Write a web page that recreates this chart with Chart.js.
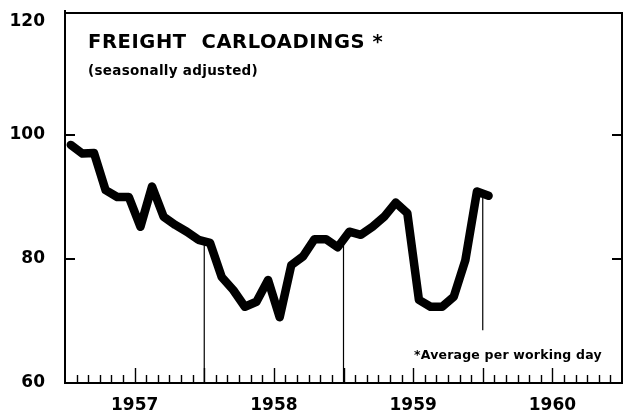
<!DOCTYPE html>
<html><head><meta charset="utf-8">
<script src="https://cdn.jsdelivr.net/npm/chart.js@4"></script>
<style>html,body{margin:0;padding:0;background:#fff}canvas{display:block}</style>
</head><body>
<canvas id="c" width="624" height="413"></canvas>
<script>
// Monthly freight carloadings index (seasonally adjusted), Jan 1957 - Jan 1960
const monthLabels = [
  'Jan 1957','Feb 1957','Mar 1957','Apr 1957','May 1957','Jun 1957','Jul 1957','Aug 1957','Sep 1957','Oct 1957','Nov 1957','Dec 1957',
  'Jan 1958','Feb 1958','Mar 1958','Apr 1958','May 1958','Jun 1958','Jul 1958','Aug 1958','Sep 1958','Oct 1958','Nov 1958','Dec 1958',
  'Jan 1959','Feb 1959','Mar 1959','Apr 1959','May 1959','Jun 1959','Jul 1959','Aug 1959','Sep 1959','Oct 1959','Nov 1959','Dec 1959',
  'Jan 1960'];
const carloadings = [
  98.4, 97.0, 97.1, 91.1, 90.0, 90.0, 85.2, 91.7, 86.8, 85.5, 84.4, 83.1,
  82.6, 77.1, 75.0, 72.3, 73.1, 76.6, 70.6, 79.0, 80.4, 83.2, 83.2, 81.9,
  84.4, 83.9, 85.2, 86.8, 89.1, 87.4, 73.4, 72.3, 72.3, 73.9, 79.8, 90.9,
  90.2];
const yearLabels = ['1957', '1958', '1959', '1960'];
const yTickValues = [60, 80, 100, 120];
const yInnerTicks = [80, 100];
// year-end drop lines (month index from Jan 1957 start), top/bottom values
const dropMonths = [12, 24, 36];
const dropTops = [82.8, 83.3, 90.3];
const dropBottoms = [60, 60, 68.5];
const titleText = 'FREIGHT  CARLOADINGS *';
const subtitleText = '(seasonally adjusted)';
const footnoteText = '*Average per working day';

const FONT = "'DejaVu Sans', Arial, sans-serif";

const decor = {
  id: 'decor',
  afterDraw(chart) {
    const {ctx, chartArea: a, scales: {x, y}} = chart;
    ctx.save();
    ctx.strokeStyle = '#000';
    ctx.lineWidth = 2;
    ctx.beginPath();
    ctx.moveTo(a.left, a.top + 2);
    ctx.lineTo(a.right, a.top + 2);
    ctx.lineTo(a.right, a.bottom);
    ctx.stroke();
    // month ticks along the bottom axis (inside)
    ctx.lineWidth = 1.4;
    ctx.beginPath();
    for (let m = 1; m < 48; m++) {
      const px = Math.round(x.getPixelForValue(m)) + 0.5;
      const len = (m % 6 === 0) ? 15 : 8;
      ctx.moveTo(px, a.bottom);
      ctx.lineTo(px, a.bottom - len);
    }
    ctx.stroke();
    // inner y ticks, both sides
    ctx.lineWidth = 2;
    ctx.beginPath();
    for (const v of yInnerTicks) {
      const py = Math.round(y.getPixelForValue(v));
      ctx.moveTo(a.left, py); ctx.lineTo(a.left + 10, py);
      ctx.moveTo(a.right - 10, py); ctx.lineTo(a.right, py);
    }
    ctx.stroke();
    // texts
    ctx.fillStyle = '#000';
    ctx.textBaseline = 'alphabetic';
    ctx.textAlign = 'left';
    ctx.font = 'bold 19.5px ' + FONT;
    ctx.letterSpacing = '0.6px';
    ctx.fillText(titleText, 88, 48);
    ctx.font = 'bold 13.5px ' + FONT;
    ctx.letterSpacing = '0.3px';
    ctx.fillText(subtitleText, 88, 75);
    ctx.font = 'bold 12.5px ' + FONT;
    ctx.letterSpacing = '0.2px';
    ctx.fillText(footnoteText, 414, 359);
    ctx.restore();
  }
};

const lineData = carloadings.map((v, i) => ({x: i + 0.5, y: v}));
const dropSets = dropMonths.map((m, j) => ({
  data: [{x: m, y: dropBottoms[j]}, {x: m, y: dropTops[j]}],
  borderColor: '#000', borderWidth: 1.2, pointRadius: 0, order: 2
}));

new Chart(document.getElementById('c'), {
  type: 'line',
  data: {
    datasets: [
      {label: 'Freight carloadings', data: lineData, borderColor: '#000', borderWidth: 8.5,
       pointRadius: 0, borderJoinStyle: 'round', borderCapStyle: 'round', tension: 0, order: 1},
      ...dropSets
    ]
  },
  options: {
    responsive: false, animation: false, devicePixelRatio: 1,
    layout: {padding: {top: 11, right: 2, left: 0, bottom: 0}},
    plugins: {legend: {display: false}, tooltip: {enabled: false}},
    scales: {
      x: {
        type: 'linear', min: 0, max: 48,
        afterBuildTicks(s) { s.ticks = yearLabels.map((_, i) => ({value: 12 * i + 6})); },
        afterFit(s) { s.height = 30; s.paddingLeft = 0; s.paddingRight = 0; },
        ticks: {
          callback: (v) => yearLabels[Math.floor(v / 12)],
          color: '#000', font: {family: FONT, size: 17, weight: 'bold'},
          padding: 12, maxRotation: 0, autoSkip: false
        },
        grid: {display: false, drawTicks: false},
        border: {display: true, color: '#000', width: 2}
      },
      y: {
        min: 60, max: 120,
        afterBuildTicks(s) { s.ticks = yTickValues.map(v => ({value: v})); },
        afterFit(s) { s.width = 65; s.paddingTop = 0; s.paddingBottom = 0; },
        ticks: {
          callback: (v) => v === 120 ? ['', String(v)] : String(v),
          color: '#000', font: {family: FONT, size: 17, weight: 'bold'},
          padding: 20
        },
        grid: {display: false, drawTicks: false},
        border: {display: true, color: '#000', width: 2}
      }
    }
  },
  plugins: [decor]
});
</script>
</body></html>
